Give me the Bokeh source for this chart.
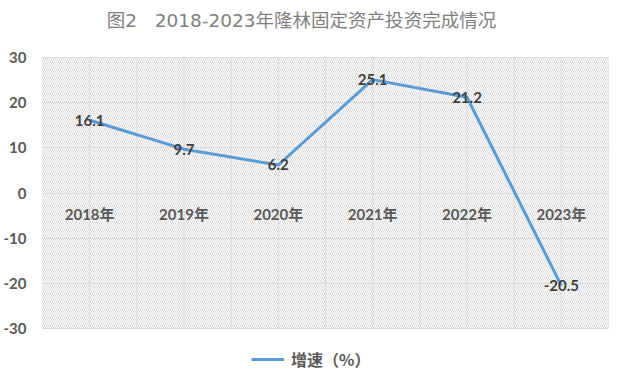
from bokeh.plotting import figure
from bokeh.models import BoxAnnotation, FixedTicker, ColumnDataSource, Label
from bokeh.core.properties import value
from bokeh.embed import file_html
from bokeh.resources import INLINE

categories = ["2018年", "2019年", "2020年", "2021年", "2022年", "2023年"]
growth = [16.1, 9.7, 6.2, 25.1, 21.2, -20.5]
y_ticks = [-30, -20, -10, 0, 10, 20, 30]
title_text = "图2\u00a0\u00a0\u00a02018-2023年隆林固定资产投资完成情况"
series_name = "增速（%）"

W, H = 617, 377
PLOT_TOP, PLOT_BOTTOM = 57, 328          # pixel rows of the hatched plot area
px_per_unit = (PLOT_BOTTOM - PLOT_TOP) / (y_ticks[-1] - y_ticks[0])
y_lo = y_ticks[0] - (H - PLOT_BOTTOM) / px_per_unit
y_hi = y_ticks[-1] + PLOT_TOP / px_per_unit

xs = list(range(len(categories)))
bounds = [i / 2 - 0.5 for i in range(2 * len(categories) + 1)]
src = ColumnDataSource(dict(x=xs, y=growth, lab=[f"{v:.1f}" for v in growth],
                            cat=categories, zero=[0] * len(categories)))

FONT = "Lato, 'Noto Sans CJK SC', sans-serif"

p = figure(width=W, height=H, output_backend="svg", toolbar_location=None,
           x_range=(-0.5, len(categories) - 0.5), y_range=(y_lo, y_hi),
           min_border_left=42, min_border_right=9, min_border_top=0, min_border_bottom=0)
p.outline_line_color = None
p.background_fill_color = "white"
p.title.visible = False

p.xaxis.visible = False
p.xgrid.visible = False
p.ygrid.ticker = FixedTicker(ticks=y_ticks)
p.ygrid.grid_line_color = "#d9d9d9"

ax = p.yaxis[0]
ax.ticker = FixedTicker(ticks=y_ticks)
ax.major_label_overrides = {t: str(t) for t in y_ticks}
ax.axis_line_color = None
ax.major_tick_line_color = None
ax.minor_tick_line_color = None
ax.major_label_standoff = 10
ax.major_label_text_font = FONT
ax.major_label_text_font_style = "bold"
ax.major_label_text_font_size = "15px"
ax.major_label_text_color = "#595959"

hatch = BoxAnnotation(bottom=y_ticks[0], top=y_ticks[-1], fill_alpha=0,
                      line_color="#d9d9d9", line_width=1,
                      hatch_pattern="left_diagonal_line",
                      hatch_color="#d9d9d9", hatch_scale=4, hatch_weight=1, level="underlay")
p.add_layout(hatch)

p.segment(x0=bounds, y0=[y_ticks[0]] * len(bounds), x1=bounds, y1=[y_ticks[-1]] * len(bounds),
          line_color="#d9d9d9", line_width=1)

p.text(x="x", y="zero", text="cat", source=src, y_offset=21,
       text_align="center", text_baseline="middle", text_font=value(FONT),
       text_font_style="bold", text_font_size="15px", text_color="#595959")

p.line(x="x", y="y", source=src, line_color="#5B9BD5", line_width=3,
       legend_label=series_name)

p.text(x="x", y="y", text="lab", source=src, text_align="center",
       text_baseline="middle", text_font=value(FONT), text_font_style="bold",
       text_font_size="15px", text_color="#404040")

title = Label(x=259, y=357, x_units="screen", y_units="screen", text=title_text,
              text_align="center", text_baseline="middle",
              text_font="'DejaVu Sans', 'Noto Sans CJK SC', sans-serif",
              text_font_size="18.5px", text_color="#7f7f7f")
p.add_layout(title)

lg = p.legend[0]
lg.location = (209, 6)
lg.border_line_color = None
lg.background_fill_alpha = 0
lg.padding = 0
lg.margin = 0
lg.glyph_width = 33
lg.glyph_height = 20
lg.label_height = 20
lg.label_standoff = 7
lg.label_text_font = "'Noto Sans CJK SC', sans-serif"
lg.label_text_font_size = "16px"
lg.label_text_font_style = "bold"
lg.label_text_color = "#595959"

open("out.html", "w").write(file_html(p, INLINE))
